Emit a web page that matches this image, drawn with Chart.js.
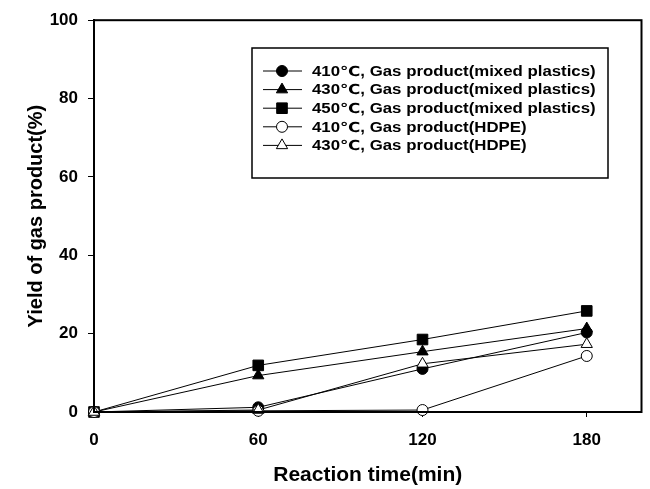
<!DOCTYPE html>
<html>
<head>
<meta charset="utf-8">
<script src="https://cdn.jsdelivr.net/npm/chart.js@4"></script>
<style>
html,body{margin:0;padding:0;background:#fff;}
#wrap{width:650px;height:489px;position:relative;}
</style>
</head>
<body>
<div id="wrap"><canvas id="c" width="650" height="489"></canvas></div>
<script>
const times = [0, 60, 120, 180];
const xTicks = [0, 60, 120, 180];
const yTicks = [0, 20, 40, 60, 80, 100];
const labels = [
  "410\u2103, Gas product(mixed plastics)",
  "430\u2103, Gas product(mixed plastics)",
  "450\u2103, Gas product(mixed plastics)",
  "410\u2103, Gas product(HDPE)",
  "430\u2103, Gas product(HDPE)"
];
const mix410 = [0, 1.2, 11.0, 20.3];
const mix430 = [0, 9.3, 15.4, 21.3];
const mix450 = [0, 11.9, 18.5, 25.8];
const hdpe410 = [0, 0.3, 0.5, 14.3];
const hdpe430 = [0, 0.5, 12.3, 17.3];

const seriesValues = [mix410, mix430, mix450, hdpe410, hdpe430];
const styles = [
  {pointStyle:'circle', fill:'#000', radius:5.5},
  {pointStyle:'triangle', fill:'#000', radius:6.5},
  {pointStyle:'rect', fill:'#000', radius:7.5},
  {pointStyle:'circle', fill:'#fff', radius:5.5},
  {pointStyle:'triangle', fill:'#fff', radius:6.5}
];

const FONT = "'Liberation Sans', Arial, 'DejaVu Sans', sans-serif";

const datasets = seriesValues.map((vals, i) => ({
  label: labels[i],
  data: vals.map((v, j) => ({x: times[j], y: v})),
  borderColor: '#000',
  borderWidth: 1,
  backgroundColor: styles[i].fill,
  pointStyle: styles[i].pointStyle,
  pointRadius: styles[i].radius,
  pointBackgroundColor: styles[i].fill,
  pointBorderColor: '#000',
  pointBorderWidth: 1,
  tension: 0,
  clip: false,
  order: seriesValues.length - i
}));

const framePlugin = {
  id: 'frame',
  afterDraw(chart) {
    const ctx = chart.ctx;
    const a = chart.chartArea;
    ctx.save();
    ctx.strokeStyle = '#000';
    ctx.lineWidth = 2;
    ctx.strokeRect(a.left, a.top, a.right - a.left, a.bottom - a.top);
    ctx.restore();
  }
};

const legendPlugin = {
  id: 'boxLegend',
  afterDraw(chart) {
    const ctx = chart.ctx;
    const bx = 252, by = 48, bw = 356, bh = 130;
    ctx.save();
    ctx.fillStyle = '#fff';
    ctx.fillRect(bx, by, bw, bh);
    ctx.strokeStyle = '#000';
    ctx.lineWidth = 1.5;
    ctx.strokeRect(bx, by, bw, bh);
    chart.data.datasets.forEach((ds, i) => {
      const y = 71 + i * 18.6;
      ctx.strokeStyle = '#000';
      ctx.lineWidth = 1;
      ctx.beginPath();
      ctx.moveTo(263, y);
      ctx.lineTo(302, y);
      ctx.stroke();
      ctx.fillStyle = ds.pointBackgroundColor;
      ctx.strokeStyle = '#000';
      ctx.lineWidth = 1;
      Chart.helpers.drawPoint(ctx, {pointStyle: ds.pointStyle, radius: ds.pointRadius, rotation: 0, borderWidth: 1}, 282, y);
      ctx.save();
      ctx.translate(312, y + 1);
      ctx.scale(1.2, 1);
      ctx.fillStyle = '#000';
      ctx.font = "bold 14px " + FONT;
      ctx.textBaseline = 'middle';
      ctx.textAlign = 'left';
      ctx.fillText(ds.label, 0, 0);
      ctx.restore();
    });
    ctx.restore();
  }
};

new Chart(document.getElementById('c'), {
  type: 'line',
  data: { datasets },
  options: {
    responsive: false,
    animation: false,
    devicePixelRatio: 1,
    layout: { padding: { top: 17, right: 8, left: 0, bottom: 0 } },
    plugins: { legend: { display: false }, tooltip: { enabled: false } },
    scales: {
      x: {
        type: 'linear',
        min: 0, max: 200,
        afterBuildTicks: s => { s.ticks = xTicks.map(v => ({value: v})); },
        afterFit: s => { s.height = 77; },
        grid: { display: true, drawOnChartArea: false, drawTicks: true, tickLength: 5, color: '#000', lineWidth: 1 },
        border: { display: true, color: '#000', width: 2 },
        ticks: { color: '#000', font: { family: FONT, size: 17, weight: 'bold' }, padding: 13, maxRotation: 0 },
        title: { display: true, text: 'Reaction time(min)', color: '#000', font: { family: FONT, size: 21, weight: 'bold' }, padding: { top: 1, bottom: 1 } }
      },
      y: {
        type: 'linear',
        min: 0, max: 100,
        afterBuildTicks: s => { s.ticks = yTicks.map(v => ({value: v})); },
        afterFit: s => { s.width = 94; },
        grid: { display: true, drawOnChartArea: false, drawTicks: true, tickLength: 6, color: '#000', lineWidth: 1 },
        border: { display: true, color: '#000', width: 2 },
        ticks: { color: '#000', font: { family: FONT, size: 17, weight: 'bold' }, padding: 10 },
        title: { display: true, text: 'Yield of gas product(%)', color: '#000', font: { family: FONT, size: 20, weight: 'bold' }, padding: { top: 24, bottom: 0 } }
      }
    }
  },
  plugins: [framePlugin, legendPlugin]
});
</script>
</body>
</html>
